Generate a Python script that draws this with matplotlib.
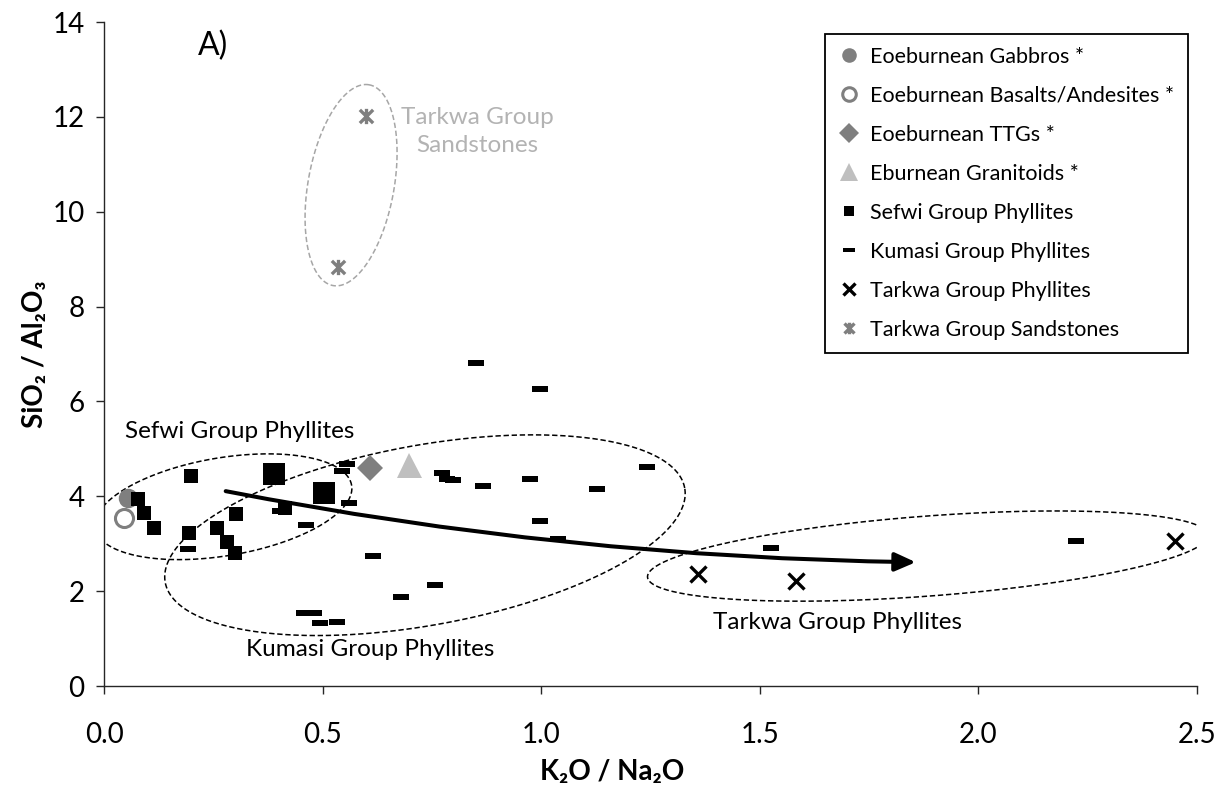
import numpy as np
import matplotlib.pyplot as plt
from matplotlib.path import Path
from matplotlib.patches import FancyArrowPatch

plt.rcParams['font.family'] = ['Lato', 'DejaVu Sans']

# ---- data (K2O/Na2O, SiO2/Al2O3) ----
gabbro_x = [0.055]
gabbro_y = [3.96]
basalt_x = [0.045]
basalt_y = [3.54]
ttg_x = [0.608]
ttg_y = [4.59]
granit_x = [0.698]
granit_y = [4.66]

sefwi_x = [0.198, 0.078, 0.092, 0.114, 0.195, 0.259, 0.302, 0.281, 0.300, 0.414]
sefwi_y = [4.43, 3.94, 3.65, 3.34, 3.22, 3.34, 3.63, 3.04, 2.81, 3.75]
sefwi_big_x = [0.389, 0.502]
sefwi_big_y = [4.46, 4.06]

kumasi_x = [0.193, 0.403, 0.462, 0.544, 0.555, 0.561, 0.616, 0.457, 0.480, 0.494,
            0.532, 0.679, 0.757, 0.851, 0.997, 0.772, 0.784, 0.799, 0.866, 0.974,
            0.997, 1.039, 1.127, 1.243, 1.525, 2.223]
kumasi_y = [2.89, 3.70, 3.39, 4.53, 4.68, 3.85, 2.75, 1.55, 1.53, 1.32,
            1.34, 1.88, 2.13, 6.82, 6.26, 4.49, 4.37, 4.34, 4.22, 4.36,
            3.48, 3.11, 4.15, 4.62, 2.92, 3.06]

tarkwa_x = [1.359, 1.583, 2.450]
tarkwa_y = [2.36, 2.21, 3.06]
sand_x = [0.599, 0.535]
sand_y = [12.02, 8.83]

# trend arrow (start, end)
arrow_start = (0.272, 4.12)
arrow_end = (1.863, 2.61)

# field ellipses: centre in data units, semi-axes in pixels, tilt in degrees
ellipses = [
    ((0.273, 3.78), 130, 49, 9.5, 'black'),     # Sefwi
    ((0.734, 3.18), 264, 90, 10.3, 'black'),    # Kumasi
    ((1.884, 2.74), 281, 40, 4.3, 'black'),     # Tarkwa phyllites
    ((0.565, 10.56), 102, 43, 79.8, '#a6a6a6'), # Tarkwa sandstones
]

# ---- markers ----
dash_marker = Path([(-1, -0.32), (1, -0.32), (1, 0.32), (-1, 0.32), (-1, -0.32)],
                   [Path.MOVETO, Path.LINETO, Path.LINETO, Path.LINETO, Path.CLOSEPOLY])
star_marker = Path([(-1, -1), (1, 1), (-1, 1), (1, -1), (0, -1.15), (0, 1.15)],
                   [Path.MOVETO, Path.LINETO, Path.MOVETO, Path.LINETO, Path.MOVETO, Path.LINETO])

fig = plt.figure(figsize=(12.17, 7.92), dpi=100)
ax = fig.add_axes([0.0855, 0.1338, 0.8981, 0.8384])
ax.set_xlim(0, 2.5)
ax.set_ylim(0, 14)

ax.plot(gabbro_x, gabbro_y, 'o', color='#7f7f7f', ms=14, mew=0, zorder=3,
        label='Eoeburnean Gabbros *')
ax.plot(basalt_x, basalt_y, 'o', mfc='white', mec='#7f7f7f', ms=13, mew=2.2, zorder=3,
        label='Eoeburnean Basalts/Andesites *')
ax.plot(ttg_x, ttg_y, 'D', color='#7f7f7f', ms=13, mew=0, zorder=3,
        label='Eoeburnean TTGs *')
ax.plot(granit_x, granit_y, '^', color='#bfbfbf', ms=18, mew=0, zorder=3,
        label='Eburnean Granitoids *')
ax.plot(sefwi_x, sefwi_y, 's', color='black', ms=9.6, mew=0, zorder=4,
        label='Sefwi Group Phyllites')
ax.plot(sefwi_big_x, sefwi_big_y, 's', color='black', ms=16, mew=0, zorder=4)
ax.plot(kumasi_x, kumasi_y, ls='none', marker=dash_marker, color='black', ms=11.5,
        mew=0, zorder=4, label='Kumasi Group Phyllites')
ax.plot(tarkwa_x, tarkwa_y, 'x', color='black', ms=11, mew=2.4, zorder=4,
        label='Tarkwa Group Phyllites')
ax.plot(sand_x, sand_y, ls='none', marker=star_marker, color='#7f7f7f', ms=11, mew=2.4,
        zorder=4, label='Tarkwa Group Sandstones')

# ellipses drawn in pixel space, converted back to data units
p0 = ax.transData.transform((0, 0))
p1 = ax.transData.transform((1, 1))
sx, sy = p1[0] - p0[0], p1[1] - p0[1]
t = np.linspace(0, 2 * np.pi, 400)
for (cx, cy), a, b, ang, col in ellipses:
    th = np.deg2rad(ang)
    u, v = a * np.cos(t), b * np.sin(t)
    ex = cx + (u * np.cos(th) - v * np.sin(th)) / sx
    ey = cy + (u * np.sin(th) + v * np.cos(th)) / sy
    ax.plot(ex, ey, color=col, lw=1.1, dashes=(3.5, 1.8), zorder=2)

arr = FancyArrowPatch(arrow_start, arrow_end, connectionstyle='arc3,rad=0.045',
                      arrowstyle='-|>,head_length=0.9,head_width=0.4',
                      mutation_scale=14, lw=2.9, color='black', zorder=5)
ax.add_patch(arr)

ax.text(0.249, 13.49, 'A)', fontsize=23, ha='center', va='center')
ax.text(0.311, 5.36, 'Sefwi Group Phyllites', fontsize=17.5, ha='center', va='center')
ax.text(0.608, 0.76, 'Kumasi Group Phyllites', fontsize=17.5, ha='center', va='center')
ax.text(1.677, 1.33, 'Tarkwa Group Phyllites', fontsize=17.5, ha='center', va='center')
ax.text(0.853, 11.69, 'Tarkwa Group\nSandstones', fontsize=17.5, ha='center', va='center',
        color='#b3b3b3', linespacing=1.4)

for side in ['top', 'right']:
    ax.spines[side].set_visible(False)
for side in ['left', 'bottom']:
    ax.spines[side].set_color('#262626')
    ax.spines[side].set_linewidth(1.0)
ax.set_xticks([0, 0.5, 1.0, 1.5, 2.0, 2.5])
ax.set_xticklabels(['0.0', '0.5', '1.0', '1.5', '2.0', '2.5'])
ax.set_yticks(range(0, 15, 2))
ax.tick_params(direction='out', length=6, width=1, color='#262626', labelsize=20, pad=8)
ax.tick_params(axis='x', pad=20)

ax.set_xlabel('K₂O / Na₂O', fontsize=20, fontweight='bold', va='center')
ax.set_ylabel('SiO₂ / Al₂O₃', fontsize=20, fontweight='bold', va='center')
ax.xaxis.set_label_coords(0.465, -0.13)
ax.yaxis.set_label_coords(-0.063, 0.5)

leg = ax.legend(loc='upper left', bbox_to_anchor=(0.65, 0.998), fontsize=15.5,
                frameon=True, fancybox=False, edgecolor='black', framealpha=1,
                labelspacing=0.88, handletextpad=0.5, borderpad=0.6, handlelength=1.0,
                markerscale=0.75)
leg.get_frame().set_linewidth(1.3)

fig.savefig('out.png', dpi=100)
